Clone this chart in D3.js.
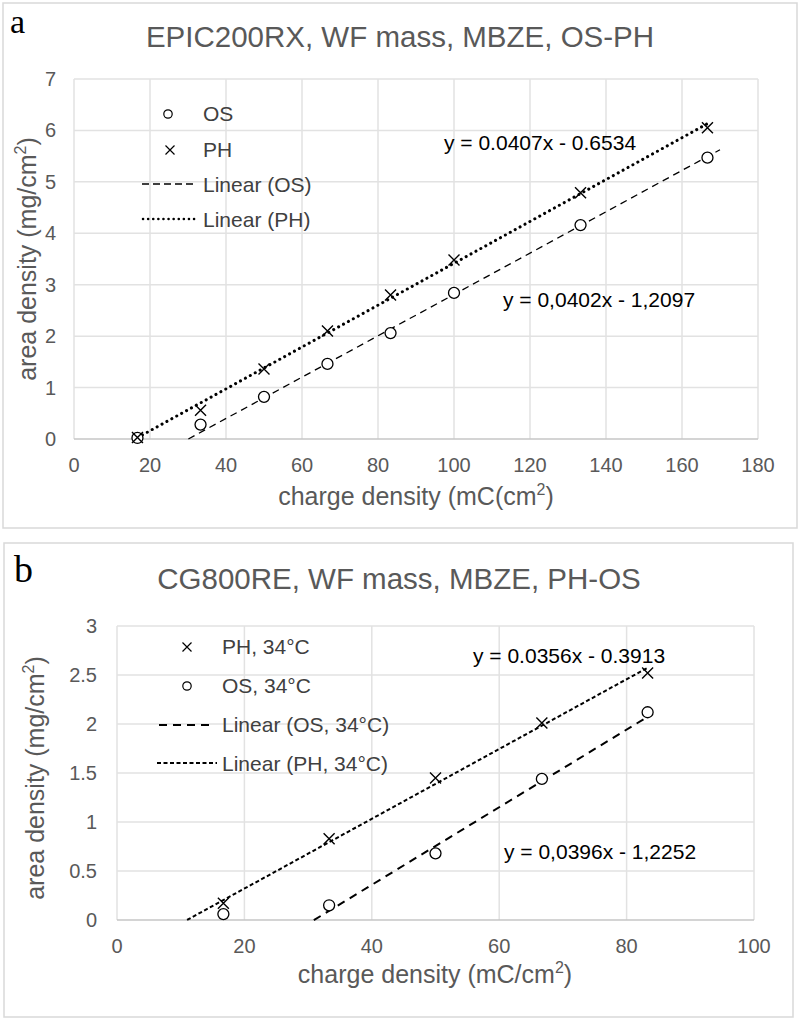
<!DOCTYPE html>
<html>
<head>
<meta charset="utf-8">
<script src="https://cdn.jsdelivr.net/npm/d3@7"></script>
<style>
  body { margin: 0; background: #fff; }
  text { font-family: "Liberation Sans", Arial, sans-serif; }
  text.letter { font-family: "Liberation Serif", "Times New Roman", serif; }
</style>
</head>
<body>
<div id="chart"></div>
<script>
// ---- data ----
var topX = [16.7, 33.3, 50, 66.7, 83.3, 100, 133.3, 166.7];
var topOS = [0.02, 0.28, 0.82, 1.46, 2.06, 2.84, 4.16, 5.47];
var topPH = [0.03, 0.56, 1.36, 2.10, 2.80, 3.48, 4.79, 6.05];
var topXTicks = [0, 20, 40, 60, 80, 100, 120, 140, 160, 180];
var topYTicks = [0, 1, 2, 3, 4, 5, 6, 7];

var botX = [16.7, 33.3, 50, 66.7, 83.3];
var botPH = [0.17, 0.83, 1.45, 2.01, 2.52];
var botOS = [0.06, 0.15, 0.68, 1.44, 2.12];
var botXTicks = [0, 20, 40, 60, 80, 100];
var botYTicks = [0, 0.5, 1, 1.5, 2, 2.5, 3];

// trendlines: [slope, intercept, xStart, xEnd]
var topOSFit = [0.0402, -1.2097, 30.1, 170];
var topPHFit = [0.0407, -0.6534, 16.7, 166.7];
var botPHFit = [0.0356, -0.3913, 11, 83.3];
var botOSFit = [0.0396, -1.2252, 30.9, 83.7];

var svg = d3.select("#chart")
  .append("svg")
  .attr("width", 800)
  .attr("height", 1020);

svg.append("rect").attr("width", 800).attr("height", 1020).attr("fill", "#fff");

function crossPath(s) {
  return "M" + (-s) + "," + (-s) + "L" + s + "," + s + "M" + (-s) + "," + s + "L" + s + "," + (-s);
}

function drawChart(cfg) {
  var g = svg.append("g");

  // panel border
  g.append("rect")
    .attr("x", cfg.box[0]).attr("y", cfg.box[1])
    .attr("width", cfg.box[2]).attr("height", cfg.box[3])
    .attr("fill", "none").attr("stroke", "#d9d9d9").attr("stroke-width", 1.5);

  var x = d3.scaleLinear().domain(cfg.xDomain).range(cfg.xRange);
  var y = d3.scaleLinear().domain(cfg.yDomain).range(cfg.yRange);

  // gridlines
  g.append("g").selectAll("line.v")
    .data(cfg.xTicks).enter().append("line")
    .attr("x1", d => x(d)).attr("x2", d => x(d))
    .attr("y1", y(cfg.yDomain[0])).attr("y2", y(cfg.yDomain[1]))
    .attr("stroke", "#e2e2e2").attr("stroke-width", 1.5);
  g.append("g").selectAll("line.h")
    .data(cfg.yTicks).enter().append("line")
    .attr("x1", x(cfg.xDomain[0])).attr("x2", x(cfg.xDomain[1]))
    .attr("y1", d => y(d)).attr("y2", d => y(d))
    .attr("stroke", d => d === 0 ? "#c6c6c6" : "#e2e2e2")
    .attr("stroke-width", 1.5);

  // tick labels
  g.append("g").selectAll("text")
    .data(cfg.xTicks).enter().append("text")
    .attr("x", d => x(d)).attr("y", cfg.xTickY)
    .attr("text-anchor", "middle")
    .attr("font-size", 20).attr("fill", "#595959")
    .text(d => d);
  g.append("g").selectAll("text")
    .data(cfg.yTicks).enter().append("text")
    .attr("x", cfg.yTickX).attr("y", d => y(d) + 7)
    .attr("text-anchor", "end")
    .attr("font-size", 20).attr("fill", "#595959")
    .text(d => d);

  // axis titles
  var xt = g.append("text")
    .attr("x", cfg.xTitle[0]).attr("y", cfg.xTitle[1])
    .attr("text-anchor", "middle").attr("font-size", 25).attr("fill", "#595959");
  xt.append("tspan").text(cfg.xLabel[0]);
  xt.append("tspan").attr("font-size", 16).attr("dy", -10).text("2");
  xt.append("tspan").attr("dy", 10).text(")");

  var yt = g.append("text")
    .attr("transform", "translate(" + cfg.yTitle[0] + "," + cfg.yTitle[1] + ") rotate(-90)")
    .attr("text-anchor", "middle").attr("font-size", 25).attr("fill", "#595959");
  yt.append("tspan").text("area density (mg/cm");
  yt.append("tspan").attr("font-size", 16).attr("dy", -10).text("2");
  yt.append("tspan").attr("dy", 10).text(")");

  // chart title and panel letter
  g.append("text")
    .attr("x", cfg.title[1]).attr("y", cfg.title[2])
    .attr("text-anchor", "middle").attr("font-size", 29.5).attr("fill", "#595959")
    .text(cfg.title[0]);
  g.append("text")
    .attr("class", "letter")
    .attr("x", cfg.letter[1]).attr("y", cfg.letter[2])
    .attr("font-size", cfg.letter[3]).attr("fill", "#000")
    .text(cfg.letter[0]);

  // trendlines
  cfg.fits.forEach(function(f) {
    var p = f.fit;
    g.append("line")
      .attr("x1", x(p[2])).attr("y1", y(p[0] * p[2] + p[1]))
      .attr("x2", x(p[3])).attr("y2", y(p[0] * p[3] + p[1]))
      .attr("stroke", "#000").attr("stroke-width", f.width)
      .attr("stroke-dasharray", f.dash)
      .attr("stroke-linecap", f.cap || "butt");
  });

  // markers
  cfg.series.forEach(function(s) {
    var pts = s.ys.map((v, i) => [cfg.xs[i], v]);
    if (s.shape === "circle") {
      g.append("g").selectAll("circle")
        .data(pts).enter().append("circle")
        .attr("cx", d => x(d[0])).attr("cy", d => y(d[1]))
        .attr("r", 5.5)
        .attr("fill", "#fff").attr("stroke", "#000").attr("stroke-width", 1.3);
    } else {
      g.append("g").selectAll("path")
        .data(pts).enter().append("path")
        .attr("transform", d => "translate(" + x(d[0]) + "," + y(d[1]) + ")")
        .attr("d", crossPath(5.5))
        .attr("fill", "none").attr("stroke", "#000").attr("stroke-width", 1.4);
    }
  });

  // equations
  cfg.eqs.forEach(function(e) {
    g.append("text")
      .attr("x", e[1]).attr("y", e[2])
      .attr("font-size", 21).attr("fill", "#000")
      .text(e[0]);
  });

  // legend
  cfg.legend.forEach(function(l) {
    if (l.type === "circle") {
      g.append("circle").attr("cx", l.mx).attr("cy", l.my).attr("r", 4.2)
        .attr("fill", "#fff").attr("stroke", "#000").attr("stroke-width", 1.2);
    } else if (l.type === "cross") {
      g.append("path").attr("transform", "translate(" + l.mx + "," + l.my + ")")
        .attr("d", crossPath(4.5))
        .attr("fill", "none").attr("stroke", "#000").attr("stroke-width", 1.2);
    } else {
      g.append("line")
        .attr("x1", l.mx).attr("x2", l.mx2).attr("y1", l.my).attr("y2", l.my)
        .attr("stroke", "#000").attr("stroke-width", l.width)
        .attr("stroke-dasharray", l.dash)
        .attr("stroke-linecap", l.cap || "butt");
    }
    g.append("text")
      .attr("x", l.tx).attr("y", l.ty)
      .attr("font-size", 21).attr("fill", "#404040")
      .text(l.label);
  });
}

drawChart({
  box: [3, 3, 794, 525],
  xDomain: [0, 180], xRange: [74, 758],
  yDomain: [0, 7], yRange: [439, 79],
  xTicks: topXTicks, yTicks: topYTicks,
  xTickY: 472, yTickX: 56,
  xTitle: [416, 505], xLabel: ["charge density (mC(cm"],
  yTitle: [36, 259],
  title: ["EPIC200RX, WF mass, MBZE, OS-PH", 400, 47],
  letter: ["a", 10, 33, 34],
  xs: topX,
  series: [{ys: topOS, shape: "circle"}, {ys: topPH, shape: "cross"}],
  fits: [
    {fit: topOSFit, width: 1.3, dash: "7,5"},
    {fit: topPHFit, width: 3, dash: "0.1,5.5", cap: "round"}
  ],
  eqs: [["y = 0.0407x - 0.6534", 444, 150], ["y = 0,0402x - 1,2097", 503, 307]],
  legend: [
    {type: "circle", mx: 168, my: 114, tx: 203, ty: 121, label: "OS"},
    {type: "cross", mx: 170, my: 150, tx: 203, ty: 157, label: "PH"},
    {type: "line", mx: 142, mx2: 193, my: 184, width: 1.3, dash: "7,4", tx: 203, ty: 192, label: "Linear (OS)"},
    {type: "line", mx: 143, mx2: 195, my: 219, width: 2.5, dash: "0.1,5", cap: "round", tx: 203, ty: 227, label: "Linear (PH)"}
  ]
});

drawChart({
  box: [4, 543, 789, 474],
  xDomain: [0, 100], xRange: [117, 754],
  yDomain: [0, 3], yRange: [920, 626],
  xTicks: botXTicks, yTicks: botYTicks,
  xTitle: [435, 983], xLabel: ["charge density (mC/cm"],
  xTickY: 953, yTickX: 97,
  yTitle: [44, 778],
  title: ["CG800RE, WF mass, MBZE, PH-OS", 399, 589],
  letter: ["b", 14, 582, 38],
  xs: botX,
  series: [{ys: botPH, shape: "cross"}, {ys: botOS, shape: "circle"}],
  fits: [
    {fit: botPHFit, width: 2, dash: "4,2.5"},
    {fit: botOSFit, width: 2, dash: "8,6"}
  ],
  eqs: [["y = 0.0356x - 0.3913", 473, 663], ["y = 0,0396x - 1,2252", 504, 859]],
  legend: [
    {type: "cross", mx: 187, my: 647, tx: 222, ty: 654, label: "PH, 34°C"},
    {type: "circle", mx: 187, my: 686, tx: 222, ty: 693, label: "OS, 34°C"},
    {type: "line", mx: 159, mx2: 213, my: 725, width: 2, dash: "8,6", tx: 222, ty: 732, label: "Linear (OS, 34°C)"},
    {type: "line", mx: 157, mx2: 217, my: 763, width: 2, dash: "4,2.5", tx: 222, ty: 771, label: "Linear (PH, 34°C)"}
  ]
});
</script>
</body>
</html>
